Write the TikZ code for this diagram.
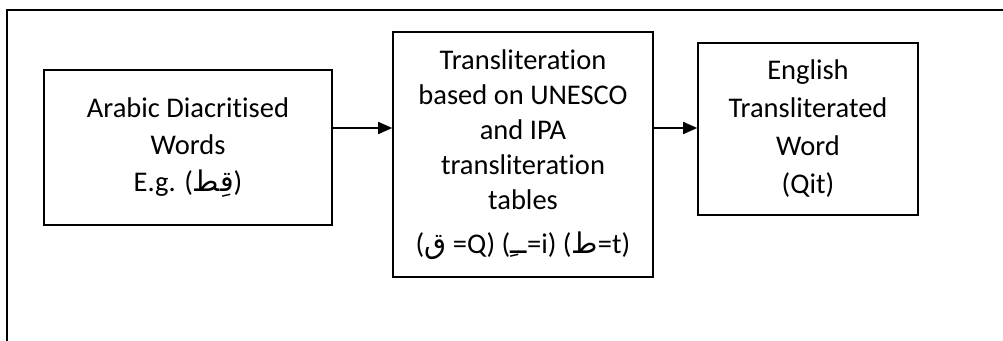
\documentclass[tikz,border=0pt]{standalone}
\usepackage{fontspec}
\setmainfont[Ligatures={NoCommon}]{Carlito}
\newfontfamily\arabicfont[Script=Arabic]{DejaVu Sans}
\TeXXeTstate=1
\usetikzlibrary{arrows.meta,positioning}
\tikzset{
  stagebox/.style={draw=black, line width=1.6pt, align=center, inner sep=0pt},
  flow/.style={line width=1.6pt, -{Triangle[length=14pt,width=12pt]}},
  frame/.style={line width=1.6pt}
}
\newcommand{\ar}[1]{{\arabicfont\beginR #1\endR}}
\begin{document}
\begin{tikzpicture}[x=1pt,y=-1pt]
  \useasboundingbox (0,0) rectangle (1003,340);
  % open outer frame (top and left edges)
  \coordinate (ftr) at (1004,10);
  \coordinate (ftl) at (7,10);
  \coordinate (fbl) at (7,341);
  \draw[frame] (ftr) -- (ftl) -- (fbl);

  % processing stages
  \node[stagebox, minimum width=288pt, minimum height=155pt,
        font=\fontsize{28.5}{37}\selectfont] (src) at (188,147.5)
    {Arabic Diacritised\\Words\\E.g. (\ar{قِط})};
  \node[stagebox, minimum width=260pt, minimum height=245pt,
        font=\fontsize{28.5}{35}\selectfont] (mid) at (523,154.5)
    {Transliteration\\based on UNESCO\\and IPA\\transliteration\\tables\\[9pt]
     (\ar{ق} =Q) (\ar{ــِ}=i) (\ar{ط}=t)};
  \node[stagebox, minimum width=220pt, minimum height=172pt,
        font=\fontsize{28.5}{38}\selectfont] (dst) at (808,129)
    {English\\Transliterated\\Word\\(Qit)};

  % flow between stages
  \draw[flow] (src.east |- 0,128) -- (mid.west |- 0,128);
  \draw[flow] (mid.east |- 0,128) -- (dst.west |- 0,128);
\end{tikzpicture}
\end{document}
